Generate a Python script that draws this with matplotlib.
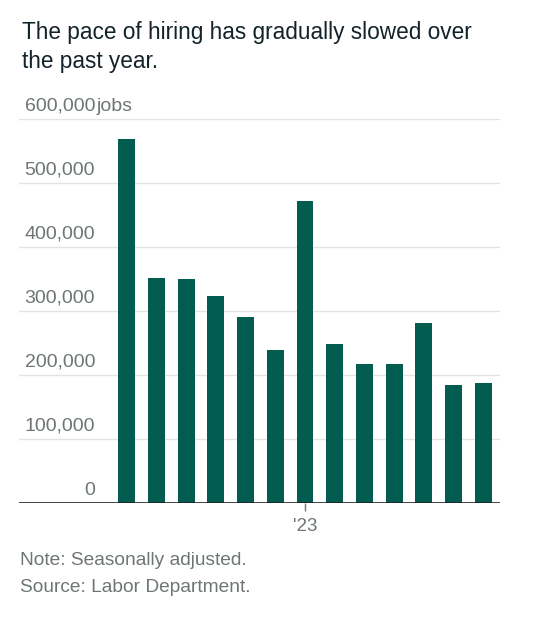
import matplotlib
matplotlib.use("Agg")
import matplotlib.pyplot as plt
from matplotlib.transforms import blended_transform_factory

# monthly job gains, Jul 2022 - Jul 2023
months = ["Jul", "Aug", "Sep", "Oct", "Nov", "Dec", "Jan", "Feb",
          "Mar", "Apr", "May", "Jun", "Jul"]
jobs = [568000, 352000, 350000, 324000, 290000, 239000, 472000,
        248000, 217000, 217000, 281000, 185000, 187000]
y_ticks = [0, 100000, 200000, 300000, 400000, 500000, 600000]
x_tick_pos = [6]
x_tick_labels = ["'23"]

bar_color = "#035c50"
grey = "#6e7674"
dark = "#13232a"

plt.rcParams["font.family"] = ["Liberation Sans", "DejaVu Sans"]

fig = plt.figure(figsize=(5.34, 6.28), dpi=100)
ax = fig.add_axes([19 / 534, 1 - 503 / 628, 481 / 534, (503 - 119) / 628])

x = list(range(len(jobs)))
ax.bar(x, jobs, width=0.57, color=bar_color, zorder=3)

ax.set_ylim(0, 600000)
ax.set_xlim(-3.62, 12.56)

for v in y_ticks[1:]:
    ax.axhline(v, color="#e3e3e3", lw=1, zorder=1)
ax.axhline(0, color="#222222", lw=1.2, zorder=4)

for s in ax.spines.values():
    s.set_visible(False)
ax.set_yticks([])
ax.set_xticks(x_tick_pos)
ax.set_xticklabels(x_tick_labels, fontsize=13.5, color=grey)
ax.tick_params(axis="x", length=6, width=1, color=grey, pad=5)

# y labels sit above their gridlines, right-aligned
trans = blended_transform_factory(ax.transAxes, ax.transData)
lx = (95 - 19) / 481
for v in y_ticks:
    ax.text(lx, v + 6500, f"{v:,}", transform=trans, ha="right", va="bottom",
            fontsize=14, color=grey)
ax.text(lx + 2 / 481, y_ticks[-1] + 6500, "jobs", transform=trans, ha="left",
        va="bottom", fontsize=14, color=grey)

fig.text(22 / 534, 1 - 39 / 628, "The pace of hiring has gradually slowed over",
         fontsize=16.3, color=dark, va="baseline")
fig.text(22 / 534, 1 - 68 / 628, "the past year.",
         fontsize=16.3, color=dark, va="baseline")

fig.text(20 / 534, 1 - 565 / 628, "Note: Seasonally adjusted.",
         fontsize=13.8, color=grey, va="baseline")
fig.text(20 / 534, 1 - 592 / 628, "Source: Labor Department.",
         fontsize=13.8, color=grey, va="baseline")

fig.savefig("out.png", dpi=100, facecolor="white")
